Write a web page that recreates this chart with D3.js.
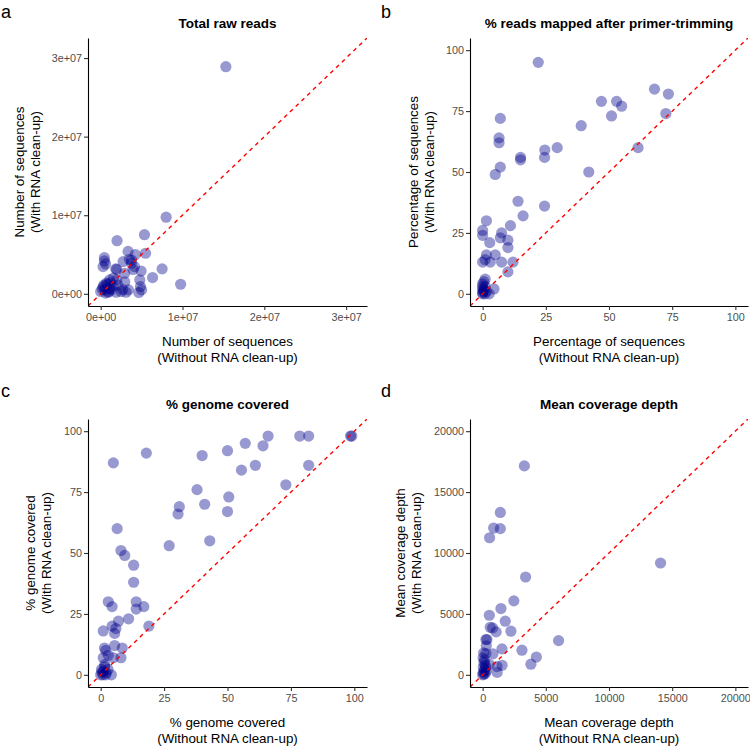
<!DOCTYPE html>
<html>
<head>
<meta charset="utf-8">
<script src="https://cdn.jsdelivr.net/npm/d3@7"></script>
<style>
  html, body { margin: 0; padding: 0; background: #ffffff; }
  svg { display: block; font-family: "Liberation Sans", Arial, sans-serif; }
</style>
</head>
<body>
<svg id="chart" width="750" height="746"></svg>
<script>
// ---------- DATA ----------
// a: Total raw reads (x: without clean-up, y: with clean-up)
const rawX = [1.53e7,0.80e7,0.20e7,0.535e7,0.335e7,0.423e7,0.548e7,0.045e7,0.045e7,0.029e7,0.06e7,0.274e7,0.376e7,0.376e7,0.396e7,0.494e7,0.751e7,0.196e7,0.294e7,0.634e7,0.478e7,0.977e7,0.486e7,0.50e7,0.466e7,0.294e7,0.196e7,0.155e7,0.11e7,0.07e7,0.21e7,0.27e7,0.34e7,0.25e7,0.11e7,0.05e7,0.0,0.03e7,0.15e7,0.09e7,0.19e7,0.31e7,0.13e7,0.06e7,0.02e7,0.08e7,0.12e7,0.35e7,0.413e7,0.184e7,0.10e7,0.04e7];
const rawY = [2.89e7,0.975e7,0.676e7,0.752e7,0.54e7,0.50e7,0.516e7,0.46e7,0.418e7,0.346e7,0.38e7,0.41e7,0.43e7,0.39e7,0.31e7,0.29e7,0.317e7,0.31e7,0.262e7,0.207e7,0.177e7,0.122e7,0.093e7,0.05e7,0.017e7,0.151e7,0.177e7,0.20e7,0.177e7,0.135e7,0.11e7,0.055e7,0.05e7,0.03e7,0.07e7,0.05e7,0.03e7,0.09e7,0.10e7,0.02e7,0.02e7,0.02e7,0.05e7,0.01e7,0.06e7,0.12e7,0.14e7,0.44e7,0.346e7,0.317e7,0.03e7,0.11e7];
const rawTicks = [0, 1e7, 2e7, 3e7];
const rawTickLabels = ["0e+00", "1e+07", "2e+07", "3e+07"];

// b: % reads mapped after primer-trimming
const mapX = [22,68,73.5,47,53,55,51,72.5,39,7,6.5,6.5,29.5,24.6,24.5,61.5,15,15,7,5,42,14,24.5,16,1.5,0,0,11,7.5,7,2.8,10,10,1.5,1,0,3,5,7.5,12,10,1,4.5,0,0,0,0.3,0,1,2.6,0.5,1,0.5,0,1.5];
const mapY = [95,84,82,79,79,77,73,74,69,72,64,62,60,59,56,60,56,55,52,49,50,38,36,32,30,26,24,28,25,23,21,22,19,16,14,13,13,16,13,13,9,6,2,4,3,2,1,0,0,0,5,3,1.5,0.5,1];
const pctTicks = [0, 25, 50, 75, 100];

// c: % genome covered
const covX = [5,18,40,50,57,64,66,78.5,82,98.5,99,55.5,61,82,73,38,50.5,31,41,30.5,50,6.5,27,43,8,9.5,13,13,3,14,4.5,17,14,11,7,4.5,6,5.5,19,1,5.5,8.5,1.5,2,3,1,5,8,1.6,0.3,2.2,4.2,0,0.9,2.9,1.6,0.5,2,1];
const covY = [87,91,90,92,95,94,98,98,98,98,98,84,86,86,78,76,73,69,70,66,67,60,53,55,51,49,45,38,30,30,28,28,27,23,22,20,19,17,20,18,12,11,11,10,8,7,7,7,4.2,2.2,0.8,0,0,0,2.2,3.3,1,0,1.5];

// d: Mean coverage depth
const depthX = [3300,1400,870,1400,550,14080,3400,2470,1450,530,1790,600,790,1070,2240,260,340,290,6010,1530,3110,820,260,79,40,4250,3820,1540,1140,1150,530,100,50,150,50,200,0,100,300,250,200,150];
const depthY = [17150,13330,12050,12000,11250,9180,8030,6070,5440,4890,4400,3900,3850,3525,3580,2900,2900,2380,2810,2130,2020,1721,1749,1803,1390,1460,870,780,680,200,850,1000,600,400,200,100,0,50,300,600,800,1200];
const depthTicks = [0, 5000, 10000, 15000, 20000];

// ---------- DRAW ----------
const svg = d3.select("#chart");
const fmtPlain = d => String(d);

const panels = [
  { letter: "a", lx: 1, ly: 18, xs: rawX, ys: rawY, dom: [-0.155e7, 3.255e7], ticks: rawTicks,
    fmt: d => rawTickLabels[rawTicks.indexOf(d)],
    px: [88, 367], py: [306, 38], title: "Total raw reads",
    xt: ["Number of sequences", "(Without RNA clean-up)"], yt: ["Number of sequences", "(With RNA clean-up)"], ytx: 24 },
  { letter: "b", lx: 381, ly: 18, xs: mapX, ys: mapY, dom: [-5, 105], ticks: pctTicks, fmt: fmtPlain,
    px: [470, 748], py: [306, 38], title: "% reads mapped after primer-trimming",
    xt: ["Percentage of sequences", "(Without RNA clean-up)"], yt: ["Percentage of sequences", "(With RNA clean-up)"], ytx: 418 },
  { letter: "c", lx: 1, ly: 397, xs: covX, ys: covY, dom: [-5, 105], ticks: pctTicks, fmt: fmtPlain,
    px: [88, 367], py: [687, 419], title: "% genome covered",
    xt: ["% genome covered", "(Without RNA clean-up)"], yt: ["% genome covered", "(With RNA clean-up)"], ytx: 35 },
  { letter: "d", lx: 381, ly: 397, xs: depthX, ys: depthY, dom: [-1000, 21000], ticks: depthTicks, fmt: fmtPlain,
    px: [470, 748], py: [687, 419], title: "Mean coverage depth",
    xt: ["Mean coverage depth", "(Without RNA clean-up)"], yt: ["Mean coverage depth", "(With RNA clean-up)"], ytx: 405 }
];

panels.forEach((p, i) => {
  const x = d3.scaleLinear().domain(p.dom).range(p.px);
  const y = d3.scaleLinear().domain(p.dom).range(p.py);
  const g = svg.append("g");

  // clip
  const cid = "clip" + i;
  svg.append("clipPath").attr("id", cid).append("rect")
    .attr("x", p.px[0]).attr("y", p.py[1])
    .attr("width", p.px[1] - p.px[0]).attr("height", p.py[0] - p.py[1]);

  // points
  const pts = p.xs.map((v, k) => [v, p.ys[k]]);
  g.append("g").selectAll("circle").data(pts).join("circle")
    .attr("cx", d => x(d[0])).attr("cy", d => y(d[1])).attr("r", 5.6)
    .attr("fill", "#00008B").attr("fill-opacity", 0.4);

  // diagonal y = x
  g.append("line").attr("clip-path", `url(#${cid})`)
    .attr("x1", x(p.dom[0])).attr("y1", y(p.dom[0]))
    .attr("x2", x(p.dom[1])).attr("y2", y(p.dom[1]))
    .attr("stroke", "#FF0000").attr("stroke-width", 1.4).attr("stroke-dasharray", "4,4");

  // axes
  const xAxis = d3.axisBottom(x).tickValues(p.ticks).tickFormat(p.fmt).tickSizeInner(4).tickSizeOuter(0).tickPadding(3);
  const yAxis = d3.axisLeft(y).tickValues(p.ticks).tickFormat(p.fmt).tickSizeInner(4).tickSizeOuter(0).tickPadding(2);
  const gx = g.append("g").attr("transform", `translate(0,${p.py[0]})`).call(xAxis);
  const gy = g.append("g").attr("transform", `translate(${p.px[0]},0)`).call(yAxis);
  [gx, gy].forEach(ax => {
    ax.select(".domain").attr("stroke", "#000").attr("stroke-width", 1.1);
    ax.selectAll(".tick line").attr("stroke", "#333").attr("stroke-width", 1.1);
    ax.selectAll(".tick text").attr("fill", "#4D4D4D").style("font-size", "10.8px")
      .style("font-family", "'Liberation Sans', Arial, sans-serif");
  });

  // title
  const cx = (p.px[0] + p.px[1]) / 2;
  g.append("text").attr("x", cx).attr("y", p.py[1] - 10).attr("text-anchor", "middle")
    .style("font-size", "13.5px").style("font-weight", "bold").attr("fill", "#000").text(p.title);

  // x-axis title
  g.append("text").attr("x", cx).attr("y", p.py[0] + 40).attr("text-anchor", "middle")
    .style("font-size", "13.4px").attr("fill", "#000").text(p.xt[0]);
  g.append("text").attr("x", cx).attr("y", p.py[0] + 56).attr("text-anchor", "middle")
    .style("font-size", "13.4px").attr("fill", "#000").text(p.xt[1]);

  // y-axis title
  const cy = (p.py[0] + p.py[1]) / 2;
  g.append("text").attr("transform", `translate(${p.ytx},${cy}) rotate(-90)`).attr("text-anchor", "middle")
    .style("font-size", "13.4px").attr("fill", "#000").text(p.yt[0]);
  g.append("text").attr("transform", `translate(${p.ytx + 16},${cy}) rotate(-90)`).attr("text-anchor", "middle")
    .style("font-size", "13.4px").attr("fill", "#000").text(p.yt[1]);

  // panel letter
  svg.append("text").attr("x", p.lx).attr("y", p.ly).style("font-size", "18px").attr("fill", "#000").text(p.letter);
});
</script>
</body>
</html>
